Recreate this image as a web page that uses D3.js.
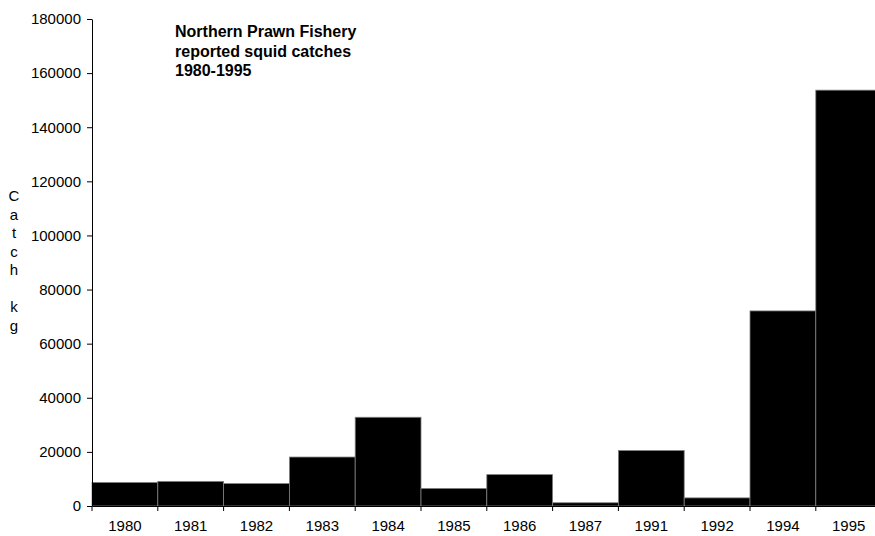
<!DOCTYPE html>
<html><head><meta charset="utf-8">
<script src="https://cdn.jsdelivr.net/npm/d3@7"></script>
<style>body{margin:0;background:#fff;} svg{display:block;} text{font-family:Arial,"Liberation Sans",sans-serif;}</style>
</head><body>
<script>
const years = ["1980","1981","1982","1983","1984","1985","1986","1987","1991","1992","1994","1995"];
const catches = [8700, 9100, 8300, 18100, 32800, 6500, 11600, 1200, 20500, 3000, 72100, 153700];
const yTicks = [0,20000,40000,60000,80000,100000,120000,140000,160000,180000];
const titleLines = ["Northern Prawn Fishery","reported squid catches","1980-1995"];
const yLabelChars = ["C","a","t","c","h","","k","g"];

const W = 875, H = 536;
const svg = d3.select("body").append("svg").attr("width", W).attr("height", H);

const x = d3.scaleBand().domain(years).range([92, 881.6]).padding(0);
const y = d3.scaleLinear().domain([0, 180000]).range([506, 19]);

svg.append("g").selectAll("rect").data(years).join("rect")
  .attr("x", d => x(d))
  .attr("width", x.bandwidth())
  .attr("y", (d,i) => y(catches[i]))
  .attr("height", (d,i) => y(0) - y(catches[i]))
  .attr("fill", "#000")
  .attr("stroke", "#808080")
  .attr("stroke-width", 0.8);

const yAxis = svg.append("g").attr("transform", "translate(92,0)")
  .call(d3.axisLeft(y).tickValues(yTicks).tickFormat(d3.format("d")).tickSizeInner(5).tickSizeOuter(0).tickPadding(6));
yAxis.selectAll("text").attr("font-size", 15).attr("fill", "#000").attr("font-family", "Arial, 'Liberation Sans', sans-serif");
yAxis.selectAll("line,path").attr("stroke", "#000");

const xAxis = svg.append("g").attr("transform", "translate(0,506)")
  .call(d3.axisBottom(x).tickSize(0).tickPadding(14));
xAxis.selectAll("text").attr("font-size", 15).attr("fill", "#000").attr("font-family", "Arial, 'Liberation Sans', sans-serif");
xAxis.select("path").attr("stroke", "#000");
// tick marks at band boundaries
xAxis.append("g").selectAll("line").data(years).join("line")
  .attr("x1", d => x(d)).attr("x2", d => x(d))
  .attr("y1", 0).attr("y2", 5).attr("stroke", "#000");

const t = svg.append("text").attr("x", 175).attr("y", 37)
  .attr("font-size", 16).attr("font-weight", "bold").attr("fill", "#000");
t.selectAll("tspan").data(titleLines).join("tspan")
  .attr("x", 175).attr("dy", (d,i) => i === 0 ? 0 : 19.5).text(d => d);

const yl = svg.append("text").attr("x", 14).attr("y", 201)
  .attr("font-size", 15).attr("text-anchor", "middle").attr("fill", "#000");
yl.selectAll("tspan").data(yLabelChars).join("tspan")
  .attr("x", 14).attr("y", (d,i) => 201 + i * 18.5).text(d => d);
</script>
</body></html>
